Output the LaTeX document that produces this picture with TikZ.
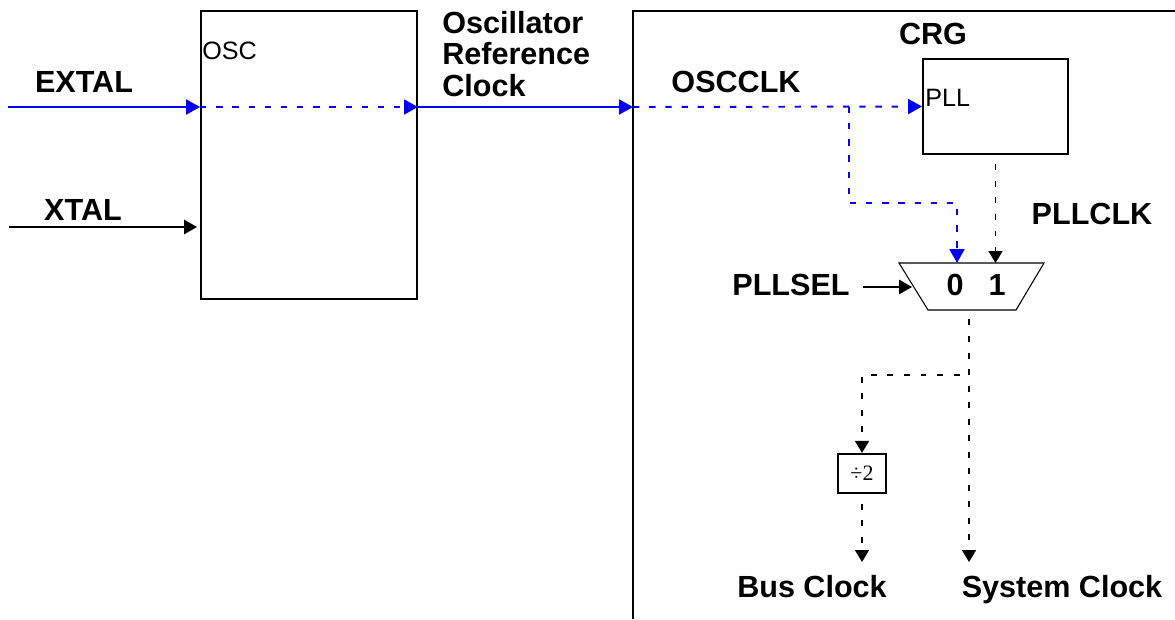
\documentclass[tikz,border=0pt]{standalone}
\usepackage{fontspec}
\setmainfont{Liberation Sans}
\newfontfamily\divfont{Liberation Serif}
\usetikzlibrary{positioning, calc, arrows.meta}

\begin{document}
\begin{tikzpicture}[
    x=0.02cm,
    y=-0.02cm,
    signame/.style={
        font=\fontsize{17.4}{17.9}\selectfont\bfseries,
        inner sep=0pt,
        anchor=base,
    },
    blocktitle/.style={
        font=\fontsize{14.3}{16}\selectfont,
        inner sep=0pt,
        anchor=west,
    },
    block/.style={
        draw,
        line width=1.1pt,
    },
    sig/.style={
        draw,
        line width=1.1pt,
        -{Triangle[length=7.4pt, width=8.2pt]},
    },
    bluesig/.style={
        sig,
        draw=blue,
        -{Triangle[length=7.9pt, width=8.5pt]},
    },
    bluedot/.style={
        bluesig,
        dash pattern=on 3.6pt off 5.6pt,
    },
    blackdot/.style={
        sig,
        dash pattern=on 3.4pt off 6pt,
        dash phase=4pt,
        -{Triangle[length=6.8pt, width=7.9pt]},
    },
]
    \useasboundingbox (0,0) rectangle (1175,619);

    % blocks
    \node[block, minimum width=4.32cm, minimum height=5.76cm] (osc) at (309,155) {};
    \node[blocktitle] (osctitle) at (202,51) {OSC};
    \node[block, minimum width=2.9cm, minimum height=1.9cm] (pll) at (995.5,106.5) {};
    \node[blocktitle] (plltitle) at (925,98) {PLL};
    \node[block, line width=1.3pt, minimum width=0.96cm, minimum height=0.78cm,
          font=\divfont\fontsize{12.5}{14}\selectfont] (div) at (862,473.5) {÷2};
    \draw[block] (633,619) -- (633,11) -- (1175,11);

    % mux
    \coordinate (muxtl) at (899,263);
    \coordinate (muxtr) at (1044,263);
    \coordinate (muxbr) at (1016,310);
    \coordinate (muxbl) at (928,310);
    \draw[line width=0.6pt] (muxtl) -- (muxtr) -- (muxbr) -- (muxbl) -- cycle;
    \node[signame] (sel0) at (955,295) {0};
    \node[signame] (sel1) at (997,295) {1};

    % labels
    \node[signame] (extal) at (84,92) {EXTAL};
    \node[signame] (xtal) at (83,220) {XTAL};
    \node[signame, anchor=north west, align=left] (oscref) at (442,11)
        {Oscillator\\Reference\\Clock};
    \node[signame] (crg) at (933,44) {CRG};
    \node[signame] (oscclk) at (736,92) {OSCCLK};
    \node[signame] (pllclk) at (1092,224) {PLLCLK};
    \node[signame] (pllsel) at (791,295) {PLLSEL};
    \node[signame] (bus) at (812,597) {Bus Clock};
    \node[signame] (system) at (1062,597) {System Clock};

    % connection points
    \coordinate (extalin) at (8,107);
    \coordinate (xtalin) at (9,227);
    \coordinate (xtalend) at (197,227);
    \coordinate (oscin) at (osc.west |- extalin);
    \coordinate (oscout) at (osc.east |- extalin);
    \coordinate (crgin) at (633,107);
    \coordinate (osctap) at (849,107);
    \coordinate (tapbend) at (957,203);
    \coordinate (muxin0) at (957,263);
    \coordinate (muxin1) at (pll.south |- muxin0);
    \coordinate (pllselout) at (863,287);
    \coordinate (muxsel) at (912,287);
    \coordinate (muxout) at (969,310);
    \coordinate (clksplit) at (969,375);
    \coordinate (sysclk) at (969,562);
    \coordinate (busclk) at (div.south |- sysclk);

    % signals
    \draw[bluesig] (extalin) -- (oscin);
    \draw[sig] (xtalin) -- (xtalend);
    \draw[bluedot] (oscin) -- (oscout);
    \draw[bluesig] (oscout) -- (crgin);
    \draw[bluedot] (crgin) -- (pll.west);
    \draw[bluedot] (osctap) |- (tapbend) -- (muxin0);
    \draw[blackdot] (pll.south) -- (muxin1);
    \draw[sig] (pllselout) -- (muxsel);
    \draw[blackdot] (muxout) -- (sysclk);
    \draw[blackdot] (clksplit) -| (div.north);
    \draw[blackdot] (div.south) -- (busclk);

\end{tikzpicture}
\end{document}
